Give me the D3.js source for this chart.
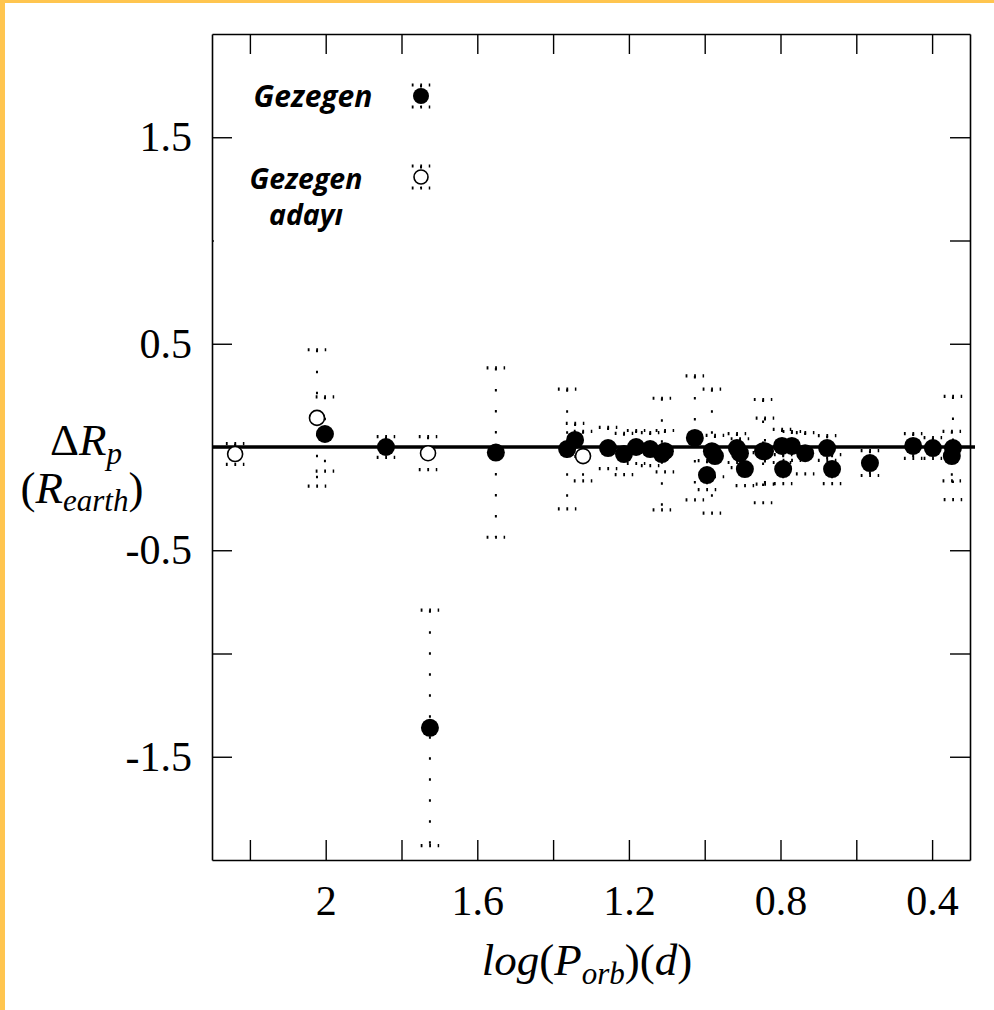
<!DOCTYPE html>
<html><head><meta charset="utf-8">
<script src="https://cdn.jsdelivr.net/npm/d3@7"></script>
<style>
body{margin:0;background:#fff;}
svg{display:block;}
</style></head>
<body>
<svg id="c" width="994" height="1010"></svg>
<script>
// ---- data ----
const planetLogP = [2.002, 1.841, 1.725, 1.551, 1.363, 1.342, 1.255, 1.213, 1.181, 1.144, 1.113, 1.105, 1.026, 0.994, 0.981, 0.973, 0.915, 0.907, 0.894, 0.846, 0.841, 0.796, 0.793, 0.770, 0.735, 0.677, 0.664, 0.564, 0.450, 0.398, 0.345, 0.348];
const planetDR   = [0.063, 0.0, -1.36, -0.027, -0.01, 0.034, -0.005, -0.034, 0.0, -0.01, -0.034, -0.02, 0.044, -0.136, -0.02, -0.044, -0.005, -0.03, -0.107, -0.02, -0.02, 0.005, -0.107, 0.005, -0.03, -0.005, -0.107, -0.078, 0.005, -0.005, -0.005, -0.044];
const planetErr  = [0.18, 0.05, 0.57, 0.41, 0.29, 0.08, 0.10, 0.10, 0.08, 0.08, 0.27, 0.10, 0.30, 0.07, 0.30, 0.10, 0.07, 0.07, 0.08, 0.25, 0.16, 0.08, 0.07, 0.07, 0.10, 0.06, 0.07, 0.06, 0.06, 0.05, 0.25, 0.12];

const candLogP = [2.239, 2.023, 1.730, 1.321];
const candDR   = [-0.034, 0.141, -0.03, -0.044];
const candErr  = [0.05, 0.33, 0.08, 0.12];

const xTickValues = [2.2, 2.0, 1.8, 1.6, 1.4, 1.2, 1.0, 0.8, 0.6, 0.4];
const xTickLabels = ["", "2", "", "1.6", "", "1.2", "", "0.8", "", "0.4"];
const yTickValues = [-1.5, -1, -0.5, 0, 0.5, 1, 1.5];
const yTickLabels = ["-1.5", "", "-0.5", "", "0.5", "", "1.5"];
const legendPlanet = ["Gezegen"];
const legendCandidate = ["Gezegen", "adayı"];

// ---- drawing ----
const svg = d3.select("#c");
svg.append("rect").attr("width", 994).attr("height", 1010).attr("fill", "#fff");
svg.append("rect").attr("x", 0).attr("y", 0).attr("width", 5).attr("height", 1010).attr("fill", "#FFC54F");
svg.append("rect").attr("x", 0).attr("y", 0).attr("width", 994).attr("height", 3).attr("fill", "#FFC54F");

const x = d3.scaleLinear().domain([2.3, 0.3]).range([212, 970]);
const y = d3.scaleLinear().domain([-2, 2]).range([860, 34]);

const serif = "'Liberation Serif', 'DejaVu Serif', serif";
const lookup = (vals, labs) => d => { const i = vals.findIndex(v => Math.abs(v - d) < 1e-9); return i < 0 ? "" : labs[i]; };

function styleAxis(g) {
  g.select(".domain").attr("stroke", "#000").attr("stroke-width", 1.6);
  g.selectAll(".tick line").attr("stroke", "#000").attr("stroke-width", 1.4);
  g.selectAll(".tick text").attr("fill", "#000").style("font-family", serif).style("font-size", "42px");
}

svg.append("g").attr("transform", "translate(0,860)")
  .call(d3.axisBottom(x).tickValues(xTickValues).tickFormat(lookup(xTickValues, xTickLabels)).tickSizeInner(-20).tickSizeOuter(0).tickPadding(25))
  .call(styleAxis);
svg.append("g").attr("transform", "translate(0,34)")
  .call(d3.axisTop(x).tickValues(xTickValues).tickFormat(() => "").tickSizeInner(-20).tickSizeOuter(0))
  .call(styleAxis);
svg.append("g").attr("transform", "translate(212,0)")
  .call(d3.axisLeft(y).tickValues(yTickValues).tickFormat(lookup(yTickValues, yTickLabels)).tickSizeInner(-20).tickSizeOuter(0).tickPadding(20))
  .call(styleAxis);
svg.append("g").attr("transform", "translate(970,0)")
  .call(d3.axisRight(y).tickValues(yTickValues).tickFormat(() => "").tickSizeInner(-20).tickSizeOuter(0))
  .call(styleAxis);

// pasted legend panel covers part of the left frame ticks
svg.append("rect").attr("x", 214).attr("y", 150).attr("width", 182).attr("height", 100).attr("fill", "#fff");

// zero line
svg.append("line").attr("x1", x(2.3)).attr("x2", x(0.3) + 5).attr("y1", y(0)).attr("y2", y(0))
  .attr("stroke", "#000").attr("stroke-width", 3.5);

function errBar(g, cx, yTop, yBot) {
  g.append("line").attr("x1", cx).attr("x2", cx).attr("y1", yTop).attr("y2", yBot)
    .attr("stroke", "#000").attr("stroke-width", 2).attr("stroke-dasharray", "2.5 18.5");
  [yTop, yBot].forEach(yy => {
    g.append("line").attr("x1", cx - 9.25).attr("x2", cx + 9.25).attr("y1", yy).attr("y2", yy)
      .attr("stroke", "#000").attr("stroke-width", 3.2).attr("stroke-dasharray", "1.8 6.7");
  });
}

const eb = svg.append("g");
planetLogP.forEach((v, i) => errBar(eb, x(v), y(planetDR[i] + planetErr[i]), y(planetDR[i] - planetErr[i])));
candLogP.forEach((v, i) => errBar(eb, x(v), y(candDR[i] + candErr[i]), y(candDR[i] - candErr[i])));

svg.append("g").selectAll("circle").data(candLogP).join("circle")
  .attr("cx", d => x(d)).attr("cy", (d, i) => y(candDR[i])).attr("r", 7.5)
  .attr("fill", "#fff").attr("stroke", "#000").attr("stroke-width", 1.6);
svg.append("g").selectAll("circle").data(planetLogP).join("circle")
  .attr("cx", d => x(d)).attr("cy", (d, i) => y(planetDR[i])).attr("r", 9)
  .attr("fill", "#000");

// legend
const lg = svg.append("g");
const legFont = "'Open Sans', sans-serif";
lg.append("text").attr("x", 313).attr("y", 107).attr("text-anchor", "middle")
  .style("font-family", legFont).style("font-weight", "bold").style("font-style", "italic").style("font-size", "30px")
  .text(legendPlanet[0]);
legendCandidate.forEach((t, i) => {
  lg.append("text").attr("x", 306).attr("y", 189 + i * 36).attr("text-anchor", "middle")
    .style("font-family", legFont).style("font-weight", "bold").style("font-style", "italic").style("font-size", "28.5px")
    .text(t);
});
errBar(lg, 421, 85, 107);
lg.append("circle").attr("cx", 421).attr("cy", 96).attr("r", 8).attr("fill", "#000");
errBar(lg, 421, 166, 188);
lg.append("circle").attr("cx", 421).attr("cy", 177).attr("r", 7).attr("fill", "#fff").attr("stroke", "#000").attr("stroke-width", 1.6);

// y title
const yt1 = svg.append("text").attr("x", 86).attr("y", 455).attr("text-anchor", "middle")
  .style("font-family", serif).style("font-size", "45px");
yt1.append("tspan").text("Δ");
yt1.append("tspan").style("font-style", "italic").text("R");
yt1.append("tspan").style("font-style", "italic").style("font-size", "31px").attr("dy", 9).text("p");

const yt2 = svg.append("text").attr("x", 82).attr("y", 503).attr("text-anchor", "middle")
  .style("font-family", serif).style("font-size", "45px");
yt2.append("tspan").text("(");
yt2.append("tspan").style("font-style", "italic").text("R");
yt2.append("tspan").style("font-style", "italic").style("font-size", "31px").attr("dy", 8).text("earth");
yt2.append("tspan").attr("dy", -8).text(")");

// x title
const xt = svg.append("text").attr("x", 587).attr("y", 975).attr("text-anchor", "middle")
  .style("font-family", serif).style("font-size", "45px");
xt.append("tspan").style("font-style", "italic").text("log");
xt.append("tspan").text("(");
xt.append("tspan").style("font-style", "italic").text("P");
xt.append("tspan").style("font-style", "italic").style("font-size", "31px").attr("dy", 9).text("orb");
xt.append("tspan").attr("dy", -9).text(")(");
xt.append("tspan").style("font-style", "italic").text("d");
xt.append("tspan").text(")");
</script>
</body></html>
